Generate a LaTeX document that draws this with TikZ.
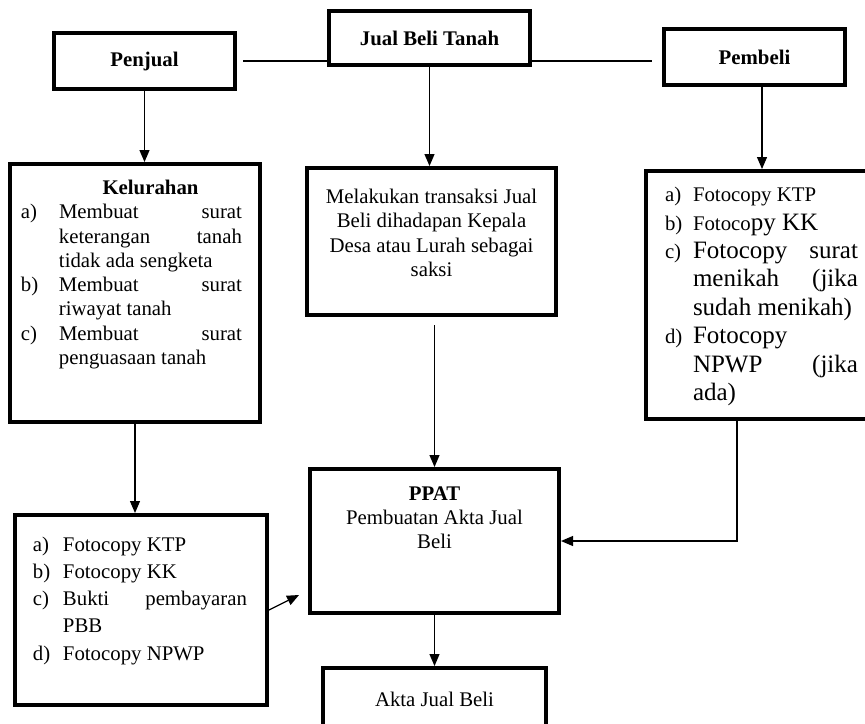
\documentclass[tikz,border=0pt]{standalone}
\usepackage{fontspec}
\setmainfont{Liberation Serif}
\usetikzlibrary{arrows.meta,calc}
\newlength{\lebarlabel}
\newcommand{\butir}[2]{\par\noindent\hangindent=\lebarlabel\hangafter=1\makebox[\lebarlabel][l]{#1}{#2}\par}
\newcommand{\kecil}{\fontsize{10.4}{14.2}\selectfont}
\newcommand{\besar}{\fontsize{12.5}{14.2}\selectfont}

\begin{document}
\begin{tikzpicture}[x=0.5pt,y=-0.5pt,
  kotak/.style={draw,line width=2pt,inner sep=0pt},
  garis/.style={line width=0.6pt},
  panah/.style={line width=0.6pt,-{Triangle[width=5pt,length=6pt]}},
  every node/.style={font=\fontsize{10.4}{12.15}\selectfont}]
\useasboundingbox (0,0) rectangle (865,723);
\clip (0,0) rectangle (865,723);

\node[kotak,minimum width=100.5pt,minimum height=27pt] (JBT) at (429.5,38) {\textbf{Jual Beli Tanah}};
\node[kotak,minimum width=90.5pt,minimum height=28pt] (Penjual) at (144.5,61) {\textbf{Penjual}};
\node[kotak,minimum width=90.5pt,minimum height=28pt] (Pembeli) at (754.5,57) {\textbf{Pembeli}};

\node[kotak] (Kelurahan) at (135,293) {\parbox[c][129pt][t]{125pt}{%
  \setlength{\lebarlabel}{19pt}\leftskip=5.5pt\rightskip=9pt\hyphenpenalty=10000\hbadness=10000
  \vspace*{8pt}
  \noindent\hspace*{\lebarlabel}\hspace*{\fill}\textbf{Kelurahan}\hspace*{\fill}\par
  \butir{a)}{Membuat surat\linebreak keterangan tanah\linebreak tidak ada sengketa}
  \butir{b)}{Membuat surat\linebreak riwayat tanah}
  \butir{c)}{Membuat surat\linebreak penguasaan tanah}}};

\node[kotak] (Transaksi) at (431.5,241.5) {\parbox[c][73.5pt][t]{124.5pt}{\centering
  \vspace*{10.5pt}Melakukan transaksi Jual\\Beli dihadapan Kepala\\Desa atau Lurah sebagai\\saksi\par}};

\node[kotak] (SyaratPembeli) at (762,295) {\parbox[c][124pt][t]{116pt}{%
  \setlength{\lebarlabel}{14pt}\leftskip=9.5pt\rightskip=10pt\hyphenpenalty=10000\hbadness=10000\kecil
  \vspace*{8.1pt}
  \butir{a)}{Fotocopy KTP}
  \butir{b)}{Fotoco{\besar py KK}}
  \butir{c)}{\besar Fotocopy surat\linebreak menikah (jika\linebreak sudah menikah)}
  \butir{d)}{\besar Fotocopy\linebreak NPWP (jika\linebreak ada)}}};

\node[kotak] (SyaratPenjual) at (141,610) {\parbox[c][95pt][t]{126pt}{%
  \setlength{\lebarlabel}{15pt}\leftskip=9pt\rightskip=10pt\hyphenpenalty=10000\hbadness=10000
  \fontsize{10.4}{13.65}\selectfont
  \vspace*{10.8pt}
  \butir{a)}{Fotocopy KTP}
  \butir{b)}{Fotocopy KK}
  \butir{c)}{Bukti pembayaran\linebreak PBB}
  \butir{d)}{Fotocopy NPWP}}};

\node[kotak] (PPAT) at (434.5,541) {\parbox[c][72pt][t]{124.5pt}{\centering\fontsize{10.4}{11.9}\selectfont
  \vspace*{8.9pt}\textbf{PPAT}\\Pembuatan Akta Jual\\Beli\par}};
\node[kotak] (Akta) at (434.5,714) {\parbox[c][46pt][t]{111.5pt}{\centering
  \vspace*{11.9pt}Akta Jual Beli\par}};

\draw[garis] ([xshift=3pt]Penjual.east) -- (Penjual.east -| JBT.west);
\draw[garis] (Penjual.east -| JBT.east) -- ($(Penjual.east -| Pembeli.west)+(-10,0)$);

\draw[panah] (Penjual.south) -- (Penjual.south |- Kelurahan.north);
\draw[panah] (JBT.south) -- (JBT.south |- Transaksi.north);
\draw[panah] (SyaratPembeli.north |- Pembeli.south) -- (SyaratPembeli.north);
\draw[panah] (Kelurahan.south) -- (Kelurahan.south |- SyaratPenjual.north);
\draw[panah] ($(PPAT.north |- Transaksi.south)+(0,8)$) -- (PPAT.north);
\draw[panah] (SyaratPenjual.east) -- ($(PPAT.south west)+(-9,-20)$);
\draw[panah] ($(SyaratPembeli.south)+(-25,0)$) |- (PPAT.east);
\draw[panah] (PPAT.south) -- (Akta.north);

\end{tikzpicture}
\end{document}
